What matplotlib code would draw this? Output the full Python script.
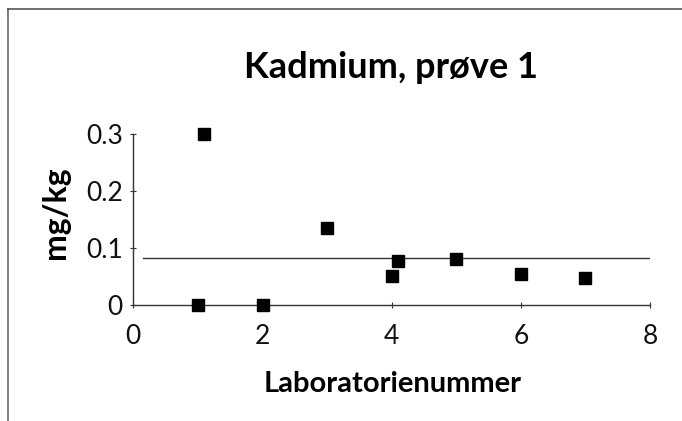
import numpy as np
import matplotlib
matplotlib.use("Agg")
import matplotlib.pyplot as plt

# lab number vs measured cadmium (mg/kg)
lab_x = [1.0, 1.1, 2.0, 3.0, 4.0, 4.1, 5.0, 6.0, 7.0]
cd_val = [0.0, 0.3, 0.0, 0.135, 0.051, 0.077, 0.081, 0.054, 0.047]
mean_line_x = [0.15, 8.0]
mean_level = 0.083

x_ticks = [0, 2, 4, 6, 8]
y_ticks = [0, 0.1, 0.2, 0.3]
y_ticklabels = ["0", "0.1", "0.2", "0.3"]

fig = plt.figure(figsize=(6.82, 4.21), dpi=100)
ax = fig.add_axes([0.1955, 0.2755, 0.7576, 0.4062])

# scanned page frame (left + top edge only visible)
fig.add_artist(plt.Line2D([8/682, 8/682], [0, 1 - 9/421], color="#666666", lw=1.2,
                          transform=fig.transFigure))
fig.add_artist(plt.Line2D([8/682, 1], [1 - 9/421, 1 - 9/421], color="#555555", lw=1.2,
                          transform=fig.transFigure))

ax.plot(mean_line_x, [mean_level, mean_level], color="#333333", lw=1.0)
ax.plot(lab_x, cd_val, linestyle="none", marker="s", markersize=8,
        color="black", clip_on=False, zorder=3)

ax.set_xlim(0, 8)
ax.set_ylim(0, 0.3)
ax.set_xticks(x_ticks)
ax.set_yticks(y_ticks)
ax.set_yticklabels(y_ticklabels)

for s in ["top", "right"]:
    ax.spines[s].set_visible(False)
for s in ["left", "bottom"]:
    ax.spines[s].set_color("#333333")
    ax.spines[s].set_linewidth(1.0)

ax.tick_params(direction="inout", length=5, width=0.8, color="#333333",
               labelsize=19, labelcolor="#111111", pad=5)
ax.tick_params(axis="x", pad=11)
for lab in ax.get_xticklabels() + ax.get_yticklabels():
    lab.set_fontfamily("Lato")

fig.text(0.573, 1 - 68/421, "Kadmium, prøve 1", ha="center", va="center",
         fontsize=26, fontweight="bold", family="Lato")
fig.text(0.575, 1 - 384/421, "Laboratorienummer", ha="center", va="center",
         fontsize=21, fontweight="bold", family="Lato")
fig.text(55/682, 1 - 213/421, "mg/kg", ha="center", va="center", rotation=90,
         fontsize=23, fontweight="bold", family="Lato")

fig.savefig("out.png", dpi=100)
